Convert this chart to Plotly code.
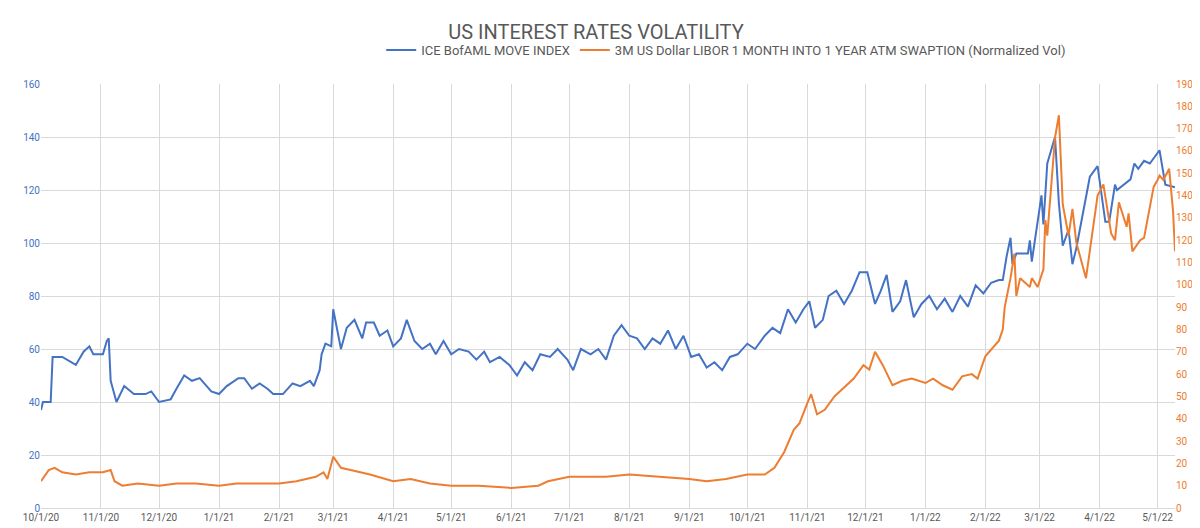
import plotly.graph_objects as go

# ICE BofAML MOVE index (left axis)
move_dates = [
    "2020-10-01", "2020-10-02", "2020-10-06", "2020-10-07", "2020-10-12", "2020-10-19", "2020-10-23",
    "2020-10-26", "2020-10-28", "2020-11-02", "2020-11-04", "2020-11-05", "2020-11-06", "2020-11-09",
    "2020-11-13", "2020-11-18", "2020-11-24", "2020-11-27", "2020-12-01", "2020-12-07", "2020-12-10",
    "2020-12-14", "2020-12-18", "2020-12-22", "2020-12-28", "2021-01-01", "2021-01-05", "2021-01-11",
    "2021-01-14", "2021-01-18", "2021-01-22", "2021-01-26", "2021-01-29", "2021-02-03", "2021-02-08",
    "2021-02-12", "2021-02-17", "2021-02-19", "2021-02-22", "2021-02-23", "2021-02-25", "2021-02-28",
    "2021-03-01", "2021-03-03", "2021-03-05", "2021-03-08", "2021-03-12", "2021-03-16", "2021-03-18",
    "2021-03-22", "2021-03-25", "2021-03-29", "2021-04-01", "2021-04-05", "2021-04-08", "2021-04-12",
    "2021-04-16", "2021-04-20", "2021-04-23", "2021-04-27", "2021-05-01", "2021-05-05", "2021-05-10",
    "2021-05-14", "2021-05-18", "2021-05-21", "2021-05-26", "2021-05-31", "2021-06-04", "2021-06-08",
    "2021-06-12", "2021-06-16", "2021-06-21", "2021-06-25", "2021-06-30", "2021-07-03", "2021-07-07",
    "2021-07-12", "2021-07-16", "2021-07-20", "2021-07-24", "2021-07-28", "2021-08-01", "2021-08-05",
    "2021-08-09", "2021-08-13", "2021-08-17", "2021-08-21", "2021-08-25", "2021-08-29", "2021-09-02",
    "2021-09-06", "2021-09-10", "2021-09-14", "2021-09-18", "2021-09-22", "2021-09-26", "2021-10-01",
    "2021-10-05", "2021-10-10", "2021-10-14", "2021-10-18", "2021-10-22", "2021-10-26", "2021-10-30",
    "2021-11-02", "2021-11-05", "2021-11-09", "2021-11-12", "2021-11-16", "2021-11-20", "2021-11-24",
    "2021-11-28", "2021-12-02", "2021-12-06", "2021-12-09", "2021-12-12", "2021-12-15", "2021-12-19",
    "2021-12-22", "2021-12-26", "2021-12-30", "2022-01-03", "2022-01-07", "2022-01-11", "2022-01-15",
    "2022-01-19", "2022-01-23", "2022-01-27", "2022-01-31", "2022-02-04", "2022-02-08", "2022-02-10",
    "2022-02-12", "2022-02-14", "2022-02-15", "2022-02-17", "2022-02-23", "2022-02-24", "2022-02-25",
    "2022-03-02", "2022-03-03", "2022-03-05", "2022-03-09", "2022-03-11", "2022-03-13", "2022-03-16",
    "2022-03-18", "2022-03-20", "2022-03-27", "2022-03-31", "2022-04-04", "2022-04-06", "2022-04-09",
    "2022-04-10", "2022-04-17", "2022-04-19", "2022-04-21", "2022-04-24", "2022-04-27", "2022-05-02",
    "2022-05-05", "2022-05-10",
]
move_values = [
    37, 40, 40, 57, 57, 54, 59, 61, 58, 58, 63, 64, 48, 40,
    46, 43, 43, 44, 40, 41, 45, 50, 48, 49, 44, 43, 46, 49,
    49, 45, 47, 45, 43, 43, 47, 46, 48, 46, 52, 58, 62, 61,
    75, 68, 60, 68, 71, 64, 70, 70, 65, 67, 61, 64, 71, 63,
    60, 62, 58, 63, 58, 60, 59, 56, 59, 55, 57, 54, 50, 55,
    52, 58, 57, 60, 56, 52, 60, 58, 60, 56, 65, 69, 65, 64,
    60, 64, 62, 67, 60, 65, 57, 58, 53, 55, 52, 57, 58, 62,
    60, 65, 68, 66, 75, 70, 75, 78, 68, 71, 80, 82, 77, 82,
    89, 89, 77, 82, 88, 74, 78, 86, 72, 77, 80, 75, 79, 74,
    80, 76, 84, 81, 85, 86, 86, 95, 102, 92, 96, 96, 101, 93,
    118, 107, 130, 140, 115, 99, 105, 92, 98, 125, 129, 108, 108, 122,
    120, 124, 130, 128, 131, 130, 135, 122, 121,
]

# 3M USD LIBOR 1M into 1Y ATM swaption normalized vol (right axis)
swpt_dates = [
    "2020-10-01", "2020-10-05", "2020-10-08", "2020-10-12", "2020-10-19", "2020-10-26", "2020-11-02",
    "2020-11-06", "2020-11-08", "2020-11-12", "2020-11-20", "2020-12-01", "2020-12-10", "2020-12-20",
    "2021-01-01", "2021-01-10", "2021-01-20", "2021-02-01", "2021-02-10", "2021-02-20", "2021-02-24",
    "2021-02-26", "2021-03-01", "2021-03-05", "2021-03-10", "2021-03-20", "2021-04-01", "2021-04-10",
    "2021-04-20", "2021-05-01", "2021-05-15", "2021-06-01", "2021-06-15", "2021-06-20", "2021-07-01",
    "2021-07-10", "2021-07-20", "2021-08-01", "2021-08-15", "2021-09-01", "2021-09-10", "2021-09-20",
    "2021-10-01", "2021-10-10", "2021-10-15", "2021-10-20", "2021-10-25", "2021-10-28", "2021-11-01",
    "2021-11-03", "2021-11-06", "2021-11-10", "2021-11-15", "2021-11-20", "2021-11-25", "2021-11-30",
    "2021-12-03", "2021-12-06", "2021-12-10", "2021-12-15", "2021-12-20", "2021-12-25", "2022-01-01",
    "2022-01-05", "2022-01-10", "2022-01-15", "2022-01-20", "2022-01-25", "2022-01-28", "2022-02-01",
    "2022-02-05", "2022-02-08", "2022-02-10", "2022-02-11", "2022-02-14", "2022-02-16", "2022-02-17",
    "2022-02-19", "2022-02-24", "2022-02-25", "2022-02-28", "2022-03-03", "2022-03-04", "2022-03-05",
    "2022-03-09", "2022-03-11", "2022-03-13", "2022-03-16", "2022-03-18", "2022-03-20", "2022-03-25",
    "2022-03-28", "2022-03-31", "2022-04-03", "2022-04-07", "2022-04-09", "2022-04-11", "2022-04-15",
    "2022-04-16", "2022-04-18", "2022-04-22", "2022-04-24", "2022-04-26", "2022-04-29", "2022-05-01",
    "2022-05-02", "2022-05-04", "2022-05-07", "2022-05-09", "2022-05-10",
]
swpt_values = [
    12, 17, 18, 16, 15, 16, 16, 17, 12, 10, 11, 10, 11, 11,
    10, 11, 11, 11, 12, 14, 16, 13, 23, 18, 17, 15, 12, 13,
    11, 10, 10, 9, 10, 12, 14, 14, 14, 15, 14, 13, 12, 13,
    15, 15, 18, 25, 35, 38, 47, 51, 42, 44, 50, 54, 58, 64,
    62, 70, 64, 55, 57, 58, 56, 58, 55, 53, 59, 60, 58, 68,
    72, 75, 80, 90, 103, 114, 95, 103, 99, 103, 99, 107, 129, 122,
    166, 176, 136, 122, 134, 119, 103, 121, 140, 145, 123, 120, 137, 126,
    132, 115, 120, 121, 130, 144, 147, 149, 147, 152, 133, 115, 112,
]

BLUE = "#4472C4"
ORANGE = "#ED7D31"

fig = go.Figure()
fig.add_trace(go.Scatter(x=move_dates, y=move_values, mode="lines",
                         name="ICE BofAML MOVE INDEX",
                         line=dict(color=BLUE, width=2)))
fig.add_trace(go.Scatter(x=swpt_dates, y=swpt_values, mode="lines", yaxis="y2",
                         name="3M US Dollar LIBOR 1 MONTH INTO 1 YEAR ATM SWAPTION (Normalized Vol)",
                         line=dict(color=ORANGE, width=2)))

fig.update_layout(
    width=1200, height=528,
    margin=dict(l=33, r=33, t=76, b=28),
    paper_bgcolor="white", plot_bgcolor="white",
    font=dict(family="Roboto", color="#595959"),
    title=dict(text="US INTEREST RATES VOLATILITY", x=0.49, y=0.955, xanchor="center",
               yanchor="middle", font=dict(size=20, color="#595959")),
    legend=dict(orientation="h", x=0.3, y=1.08, xanchor="left", yanchor="middle",
                font=dict(size=13, color="#595959")),
    xaxis=dict(type="date", range=["2020-10-01", "2022-05-10"],
               tickvals=["2020-10-01", "2020-11-01", "2020-12-01", "2021-01-01", "2021-02-01",
                         "2021-03-01", "2021-04-01", "2021-05-01", "2021-06-01", "2021-07-01",
                         "2021-08-01", "2021-09-01", "2021-10-01", "2021-11-01", "2021-12-01",
                         "2022-01-01", "2022-02-01", "2022-03-01", "2022-04-01", "2022-05-01"],
               tickformat="%-m/%-d/%y", showgrid=True, gridcolor="#d9d9d9",
               showline=True, linecolor="#d9d9d9", tickfont=dict(size=10, color="#595959")),
    yaxis=dict(range=[0, 160], dtick=20, gridcolor="#d9d9d9", zeroline=False,
               tickfont=dict(size=10, color=BLUE)),
    yaxis2=dict(range=[0, 190], dtick=10, overlaying="y", side="right", showgrid=False,
                zeroline=False, tickfont=dict(size=10, color=ORANGE)),
)

fig.write_html("out.html")
